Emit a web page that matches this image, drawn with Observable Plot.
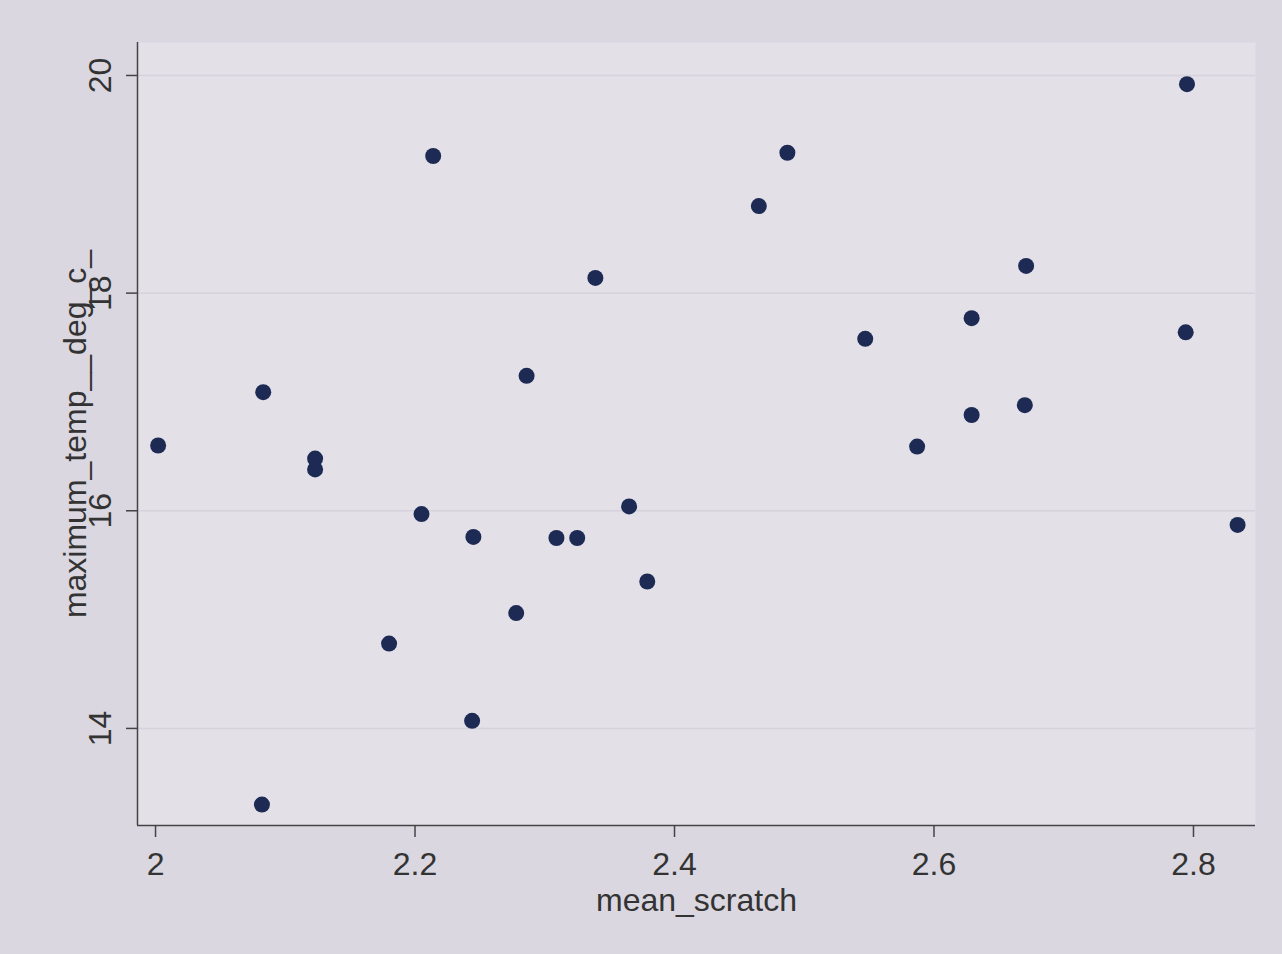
<!DOCTYPE html>
<html>
<head>
<meta charset="utf-8">
<script src="https://cdn.jsdelivr.net/npm/d3@7"></script>
<script src="https://cdn.jsdelivr.net/npm/@observablehq/plot@0.6"></script>
<style>
  html, body { margin: 0; padding: 0; background: #dad7e0; }
  #chart { width: 1282px; height: 954px; }
</style>
</head>
<body>
<div id="chart"></div>
<script>
const meanScratch = [2.002, 2.083, 2.082, 2.123, 2.123, 2.180, 2.205, 2.214, 2.245, 2.244,
  2.278, 2.286, 2.309, 2.325, 2.339, 2.365, 2.379, 2.465, 2.487, 2.547,
  2.587, 2.629, 2.629, 2.671, 2.670, 2.795, 2.794, 2.834];
const maxTemp = [16.60, 17.09, 13.30, 16.48, 16.38, 14.78, 15.97, 19.26, 15.76, 14.07,
  15.06, 17.24, 15.75, 15.75, 18.14, 16.04, 15.35, 18.80, 19.29, 17.58,
  16.59, 17.77, 16.88, 18.25, 16.97, 19.92, 17.64, 15.87];
const xTicks = [2, 2.2, 2.4, 2.6, 2.8];
const yTicks = [14, 16, 18, 20];
const xLabel = "mean_scratch";
const yLabel = "maximum_temp__deg_c_";

const data = meanScratch.map((x, i) => ({x, y: maxTemp[i]}));
const xDomain = [1.9861, 2.8478];
const yDomain = [13.108, 20.303];
const fmt = d3.format("~g");

const chart = Plot.plot({
  width: 1282,
  height: 954,
  marginLeft: 137,
  marginRight: 27,
  marginTop: 42,
  marginBottom: 129,
  style: {background: "transparent", fontFamily: "'Liberation Sans', Arial, sans-serif", fontSize: "32px", color: "#333"},
  x: {domain: xDomain},
  y: {domain: yDomain},
  marks: [
    Plot.frame({fill: "#e3e0e8", stroke: null}),
    Plot.gridY(yTicks, {stroke: "#cdcad4", strokeOpacity: 0.6, strokeWidth: 1.5}),
    Plot.ruleX([xDomain[0]], {stroke: "#444", strokeWidth: 1.5}),
    Plot.ruleY([yDomain[0]], {stroke: "#444", strokeWidth: 1.5}),
    Plot.axisX(xTicks, {tickSize: 12, tickPadding: 15, tickFormat: fmt, stroke: "#444", strokeWidth: 1.5, fill: "#333", label: null}),
    Plot.axisY(yTicks, {tickSize: 11, tickPadding: 16, tickRotate: -90, tickFormat: fmt, stroke: "#444", strokeWidth: 1.5, fill: "#333", label: null}),
    Plot.text([xLabel], {frameAnchor: "bottom", dy: 75, lineAnchor: "middle", textAnchor: "middle", fill: "#333", fontSize: 32}),
    Plot.text([yLabel], {frameAnchor: "left", dx: -62, rotate: -90, lineAnchor: "middle", textAnchor: "middle", fill: "#333", fontSize: 32}),
    Plot.dot(data, {x: "x", y: "y", r: 8, fill: "#1c2a54", stroke: null})
  ]
});
document.getElementById("chart").appendChild(chart);
</script>
</body>
</html>
